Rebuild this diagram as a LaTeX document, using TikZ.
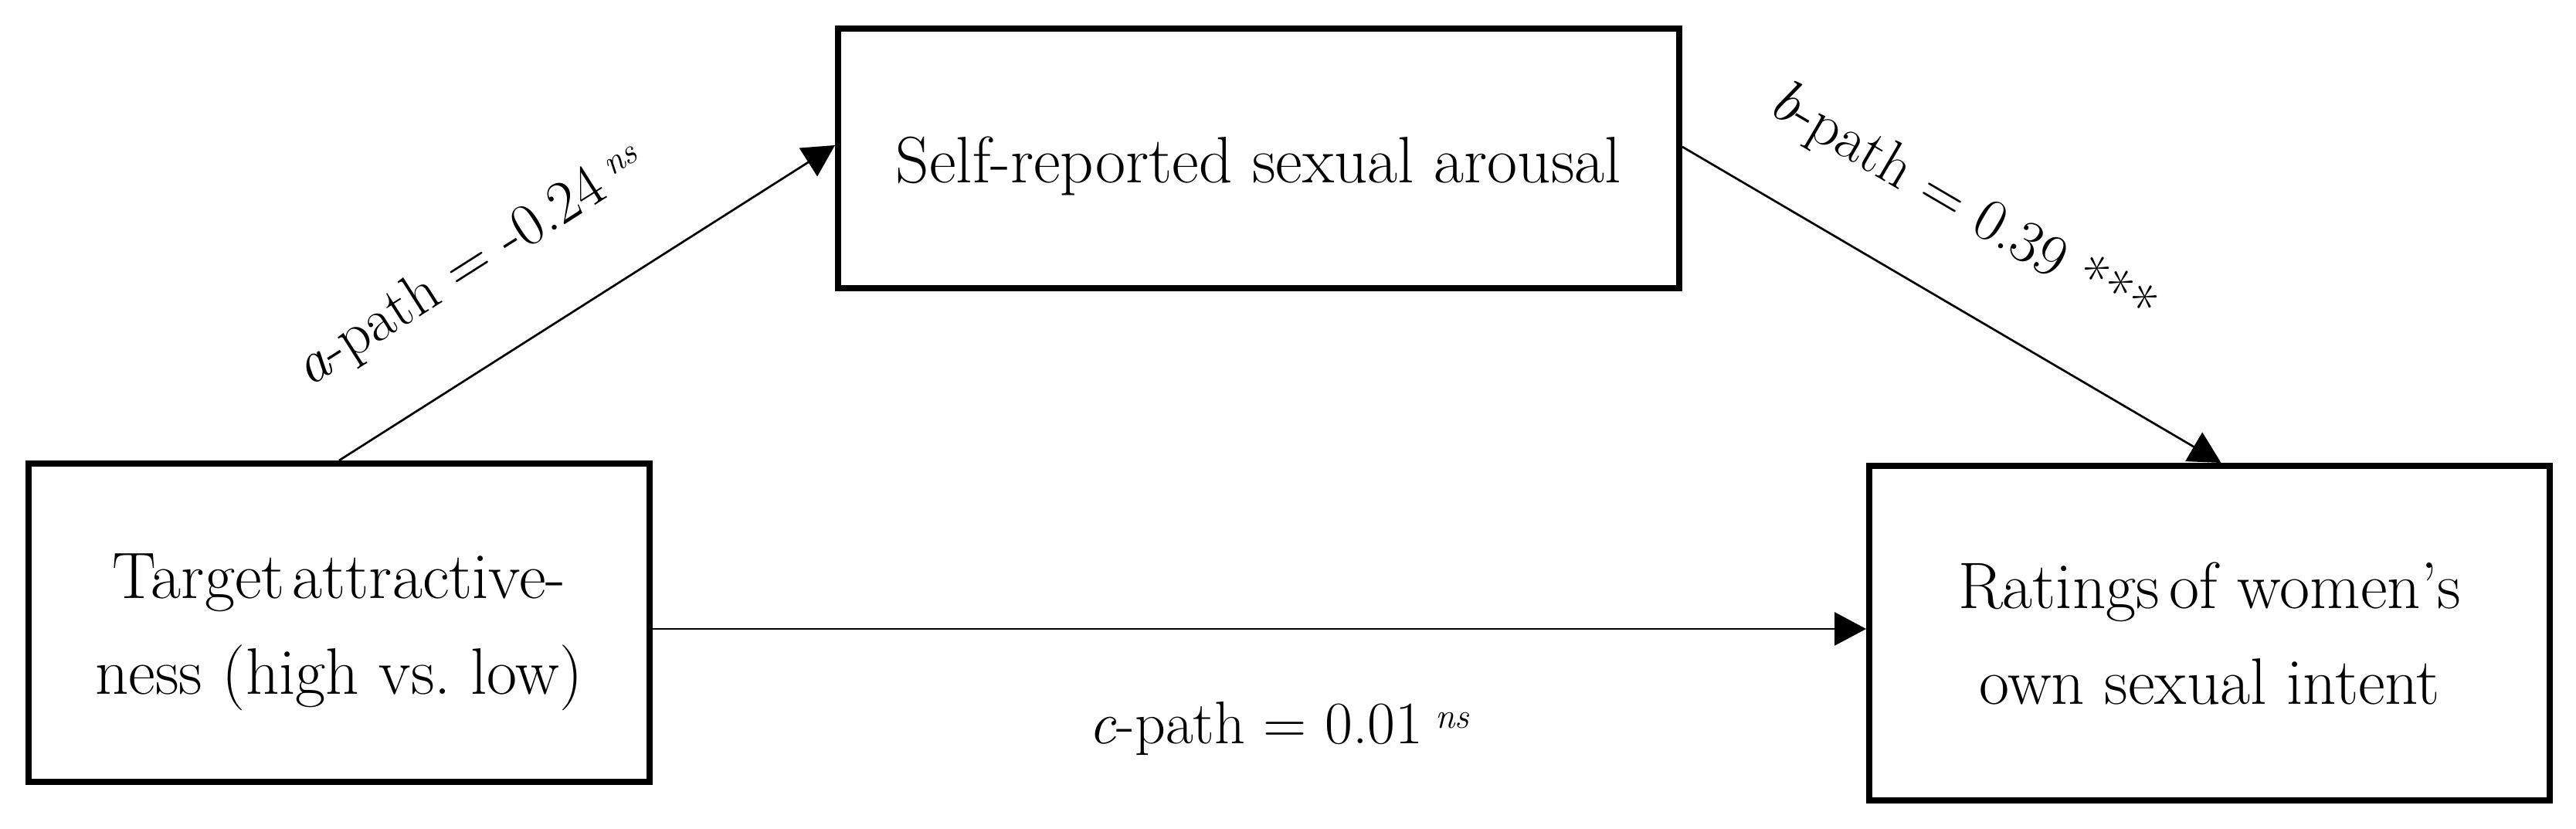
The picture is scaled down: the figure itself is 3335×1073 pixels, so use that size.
\documentclass[tikz,border=0pt]{standalone}
\usetikzlibrary{arrows.meta,calc}
\newcommand\mynsup{\kern0.2em\raisebox{20pt}{\fontsize{46}{46}\selectfont\itshape ns}}
\begin{document}
\begin{tikzpicture}[x=1pt,y=-1pt,
  box/.style={draw, line width=8pt, fill=white, inner sep=0pt, rectangle},
  boxtext/.style={align=center, inner sep=0pt, font=\fontsize{85}{124}\selectfont},
  arr/.style={line width=2.7pt, -{Triangle[length=41pt,width=43pt]}},
  lbl/.style={inner sep=0pt, font=\fontsize{78}{92}\selectfont}]
\useasboundingbox (0,0) rectangle (3335,1073);
% boxes
\node[box, minimum width=804pt, minimum height=412pt] (left) at (439,806) {};
\node[box, minimum width=1089pt, minimum height=336pt] (med) at (1629.5,205) {};
\node[box, minimum width=881pt, minimum height=433pt] (rat) at (2860.5,819.5) {};
\node[boxtext] (lefttxt) at ([yshift=-12pt]left.center) {Target\kern0.12em attractive-\\ness (high vs.\ low)};
\node[boxtext] (medtxt) at ([yshift=-9.5pt]med.center) {Self-reported sexual arousal};
\node[boxtext] (rattxt) at (rat.center) {Ratings\kern0.15em of women’s\\own sexual intent};
% connectors
\draw[arr] (left.north) -- ([yshift=17pt]med.west);
\draw[arr] ([yshift=15pt]med.east) -- ([xshift=15pt]rat.north);
\draw[arr] ([yshift=-8pt]left.east) -- ([yshift=-8pt]left.east -| rat.west);
% label helpers
\coordinate (a1) at (left.north);
\coordinate (a2) at ([yshift=17pt]med.west);
\coordinate (b1) at ([yshift=15pt]med.east);
\coordinate (b2) at ([xshift=15pt]rat.north);
\coordinate (c1) at ([yshift=-8pt]left.east);
\coordinate (c2) at ([yshift=-8pt]left.east -| rat.west);
\coordinate (pa) at ($(a1)!18pt!(a2)$);
\coordinate (qa) at ($(pa)!101pt!90:(a2)$);
\coordinate (pb) at ($(b1)!70pt!(b2)$);
\coordinate (qb) at ($(pb)!94pt!90:(b2)$);
\coordinate (cm) at ($(c1)!0.5!(c2)$);
% labels
\path let \p1=($(a2)-(a1)$), \n1={atan2(\y1,\x1)} in
  node[lbl, rotate=\n1, anchor=base west] (alab) at (qa) {\textit{a}-path = -0.24\mynsup};
\path let \p1=($(b2)-(b1)$), \n1={atan2(\y1,\x1)} in
  node[lbl, rotate=\n1, anchor=base west] (blab) at (qb) {\textit{b}-path = 0.39 ***};
\node[lbl, anchor=base west] (clab) at ([xshift=-221pt,yshift=-148pt]cm) {\textit{c}-path = 0.01\mynsup};
\end{tikzpicture}
\end{document}
